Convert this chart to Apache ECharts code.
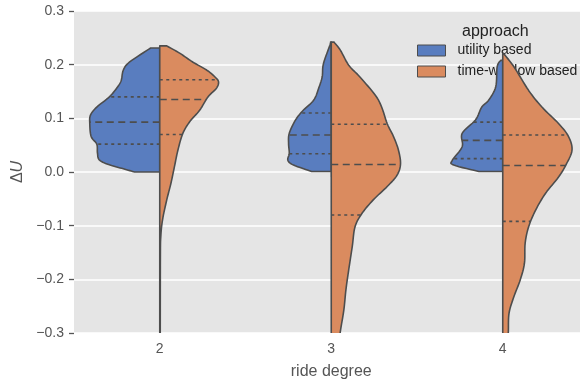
<!DOCTYPE html>
<html>
<head>
<meta charset="utf-8">
<script src="https://cdn.jsdelivr.net/npm/echarts@6/dist/echarts.min.js"></script>
<style>html,body{margin:0;padding:0;background:#fff}#chart{width:580px;height:382px}</style>
</head>
<body>
<div id="chart"></div>
<script>
// ---- data ----
const categories = ['2', '3', '4'];
const seriesNames = ['utility based', 'time-window based'];
const yTicks = [-0.3, -0.2, -0.1, 0.0, 0.1, 0.2, 0.3];

// violin profiles: [value, relative density]
const utility2 = [[0.231,0.13],[0.205,0.43],[0.19,0.52],[0.171,0.55],[0.159,0.60],[0.14,0.72],[0.121,0.90],[0.106,0.99],[0.09,1.0],[0.066,0.98],[0.052,0.90],[0.035,0.89],[0.022,0.86],[0.013,0.71],[0.006,0.52],[0.0,0.36]];
const utility3 = [[0.242,0.01],[0.236,0.02],[0.211,0.09],[0.196,0.12],[0.177,0.13],[0.156,0.18],[0.134,0.25],[0.115,0.40],[0.097,0.51],[0.072,0.60],[0.053,0.61],[0.035,0.60],[0.022,0.62],[0.013,0.54],[0.001,0.28]];
const utility4 = [[0.208,0.03],[0.196,0.08],[0.159,0.10],[0.134,0.20],[0.121,0.30],[0.097,0.39],[0.072,0.58],[0.047,0.58],[0.022,0.72],[0.013,0.70],[0.001,0.34]];
const timeWindow2 = [[0.235,0.10],[0.221,0.29],[0.205,0.47],[0.19,0.67],[0.177,0.79],[0.168,0.84],[0.156,0.81],[0.14,0.69],[0.115,0.57],[0.094,0.43],[0.072,0.33],[0.041,0.26],[0.01,0.21],[-0.021,0.16],[-0.052,0.10],[-0.089,0.04],[-0.12,0.015],[-0.16,0.009],[-0.32,0.007]];
const timeWindow3 = [[0.242,0.04],[0.227,0.13],[0.199,0.25],[0.177,0.41],[0.143,0.63],[0.121,0.72],[0.09,0.80],[0.066,0.89],[0.041,0.96],[0.015,0.99],[-0.006,0.94],[-0.027,0.80],[-0.052,0.60],[-0.077,0.44],[-0.102,0.34],[-0.139,0.30],[-0.182,0.25],[-0.219,0.21],[-0.257,0.18],[-0.297,0.13],[-0.32,0.11]];
const timeWindow4 = [[0.221,0.01],[0.196,0.16],[0.152,0.37],[0.121,0.56],[0.09,0.80],[0.066,0.94],[0.041,0.99],[0.015,0.91],[-0.009,0.80],[-0.04,0.61],[-0.071,0.47],[-0.102,0.37],[-0.133,0.32],[-0.17,0.31],[-0.201,0.25],[-0.232,0.16],[-0.263,0.09],[-0.297,0.08],[-0.32,0.07]];

// quartiles [q1, median, q3]
const utilityQuartiles = [[0.052,0.093,0.140],[0.034,0.069,0.110],[0.025,0.059,0.093]];
const timeWindowQuartiles = [[0.070,0.135,0.172],[-0.080,0.014,0.089],[-0.092,0.012,0.069]];

const profiles = [[utility2, utility3, utility4], [timeWindow2, timeWindow3, timeWindow4]];
const quartiles = [utilityQuartiles, timeWindowQuartiles];
const colors = ['#597DBF', '#DA8B5F'];
const edge = '#4d4d4d';
const FONT = "'Liberation Sans', Arial, sans-serif";
const WIDTH_K = 0.408;

function catmull(pts, n) {
  const out = [];
  for (let i = 0; i < pts.length - 1; i++) {
    const p0 = pts[Math.max(0, i - 1)], p1 = pts[i], p2 = pts[i + 1], p3 = pts[Math.min(pts.length - 1, i + 2)];
    for (let s = 0; s < n; s++) {
      const t = s / n, t2 = t * t, t3 = t2 * t;
      const f = (a, b, c, d) => 0.5 * ((2 * b) + (-a + c) * t + (2 * a - 5 * b + 4 * c - d) * t2 + (-a + 3 * b - 3 * c + d) * t3);
      out.push([f(p0[0], p1[0], p2[0], p3[0]), f(p0[1], p1[1], p2[1], p3[1])]);
    }
  }
  out.push(pts[pts.length - 1]);
  return out;
}

function densAt(prof, y) {
  for (let i = 0; i < prof.length - 1; i++) {
    const a = prof[i], b = prof[i + 1];
    if (y <= a[0] && y >= b[0]) {
      const t = (a[0] - y) / (a[0] - b[0]);
      return a[1] + t * (b[1] - a[1]);
    }
  }
  return 0;
}

function makeRender(si) {
  const side = si === 0 ? -1 : 1;
  return function (params, api) {
    const ci = api.value(0);
    const prof = profiles[si][ci];
    const band = api.size([1, 0])[0];
    const cx = api.coord([ci, 0])[0];
    const pts = prof.map(p => [cx + side * p[1] * band * WIDTH_K, api.coord([ci, p[0]])[1]]);
    const sm = catmull(pts, 8);
    const yTop = api.coord([ci, prof[0][0]])[1];
    const yBot = api.coord([ci, prof[prof.length - 1][0]])[1];
    const poly = [[cx, yTop]].concat(sm).concat([[cx, yBot]]);
    const children = [{
      type: 'polygon',
      shape: { points: poly },
      style: { fill: colors[si], stroke: edge, lineWidth: 1.6, lineJoin: 'round' }
    }];
    quartiles[si][ci].forEach((q, k) => {
      const d = densAt(prof, q);
      const y = api.coord([ci, q])[1];
      children.push({
        type: 'line',
        shape: { x1: cx, y1: y, x2: cx + side * d * band * WIDTH_K, y2: y },
        style: { stroke: edge, lineWidth: 1.6, lineDash: k === 1 ? [7, 4.5] : [3, 3.5] }
      });
    });
    return { type: 'group', children };
  };
}

const chart = echarts.init(document.getElementById('chart'), null, { renderer: 'canvas' });
chart.setOption({
  animation: false,
  backgroundColor: '#ffffff',
  title: {
    text: 'approach', left: 457, top: 19,
    textStyle: { fontFamily: FONT, fontSize: 16, fontWeight: 'normal', color: '#222' }
  },
  legend: {
    orient: 'vertical', left: 412, top: 38.5, z: 1,
    itemWidth: 28, itemHeight: 11, itemGap: 7, icon: 'rect',
    data: seriesNames,
    itemStyle: { borderColor: edge, borderWidth: 1 },
    formatter: n => '{t|' + n + '}',
    textStyle: { fontFamily: FONT, fontSize: 14, color: '#222',
      rich: { t: { fontFamily: FONT, fontSize: 14, color: '#222', padding: [0, 0, 0, 7] } } }
  },
  grid: {
    left: 74, top: 11, width: 514.5, height: 322,
    outerBoundsMode: 'none', containLabel: false,
    show: true, backgroundColor: '#E5E5E5', borderWidth: 0
  },
  xAxis: {
    type: 'category', data: categories, boundaryGap: true,
    name: 'ride degree', nameLocation: 'middle', nameGap: 31,
    nameTextStyle: { fontFamily: FONT, fontSize: 16, color: '#555' },
    axisLine: { show: false },
    axisTick: { show: true, alignWithLabel: true, length: 5, lineStyle: { color: '#555', width: 1.3 } },
    axisLabel: { fontFamily: FONT, fontSize: 14, color: '#555', margin: 9 },
    splitLine: { show: false }
  },
  yAxis: {
    type: 'value', min: -0.3, max: 0.3, interval: 0.1,
    name: '{d|Δ}{u|U}', nameLocation: 'middle', nameGap: 45,
    nameTextStyle: { fontFamily: FONT, fontSize: 16, color: '#555',
      rich: { d: { fontFamily: FONT, fontSize: 16, color: '#555' }, u: { fontFamily: FONT, fontSize: 16, color: '#555', fontStyle: 'italic' } } },
    axisLine: { show: false },
    axisTick: { show: true, length: 5, lineStyle: { color: '#555', width: 1.3 } },
    axisLabel: {
      fontFamily: FONT, fontSize: 14, color: '#555', margin: 10,
      formatter: v => {
        const t = yTicks.reduce((a, b) => Math.abs(b - v) < Math.abs(a - v) ? b : a);
        return (t < 0 ? '\u2212' : '') + Math.abs(t).toFixed(1);
      }
    },
    splitLine: { show: true, lineStyle: { color: '#ffffff', width: 1.6 } }
  },
  series: [0, 1].map(si => ({
    type: 'custom', name: seriesNames[si], z: 3, clip: true,
    itemStyle: { color: colors[si], borderColor: edge, borderWidth: 1 },
    renderItem: makeRender(si),
    encode: { x: 0, y: 1 },
    data: categories.map((c, i) => [i, 0])
  }))
});
</script>
</body>
</html>
